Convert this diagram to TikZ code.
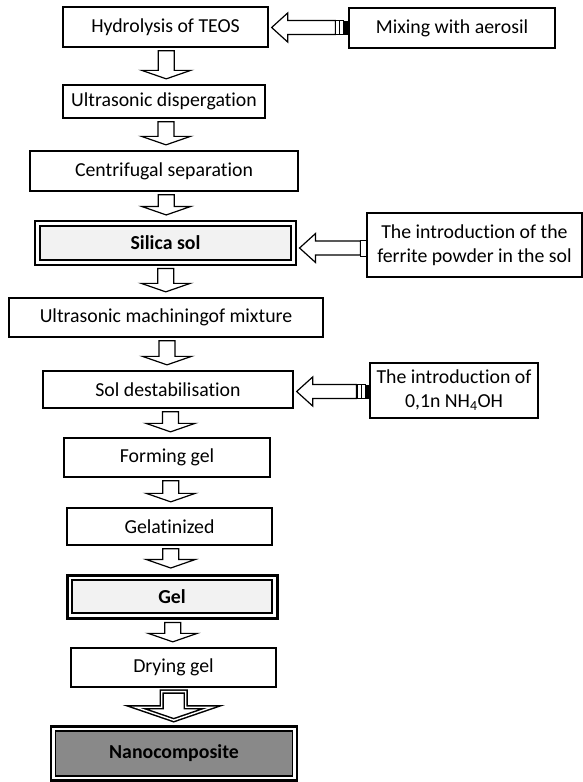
\documentclass[tikz,border=0pt]{standalone}
\usepackage{fontspec}
\setmainfont{Carlito}[Ligatures={NoCommon}]
\usetikzlibrary{calc}
\definecolor{lightfill}{RGB}{242,242,242}
\definecolor{darkfill}{RGB}{137,137,137}
\newcommand\bodyfs{\fontsize{19.8}{24}\selectfont}
\tikzset{
  box/.style={draw, line width=1.3pt, inner sep=0pt, align=center, font=\bodyfs},
  blk/.style={draw, line width=1.2pt, fill=white, line join=miter},
  silbox/.style={box, line width=1.1pt,
    path picture={\draw[line width=2.6pt, fill=lightfill]
      ([shift={(5pt,-5pt)}]path picture bounding box.north west) rectangle
      ([shift={(-5pt,5pt)}]path picture bounding box.south east);}},
  gelbox/.style={box, line width=3pt,
    path picture={\draw[line width=1.2pt, fill=lightfill]
      ([shift={(5pt,-5pt)}]path picture bounding box.north west) rectangle
      ([shift={(-5pt,5pt)}]path picture bounding box.south east);}},
  nanobox/.style={box, line width=2.6pt,
    path picture={\draw[line width=1.1pt, fill=darkfill]
      ([shift={(4.5pt,-4.5pt)}]path picture bounding box.north west) rectangle
      ([shift={(-4.5pt,4.5pt)}]path picture bounding box.south east);}},
}
\newcommand\dnarrow[3][0pt]{%
  \draw[blk] let \p1=(#2.south), \p2=(#3.north), \n1={(\x1+\x2)/2+#1} in
    (\n1-8pt,\y1-3pt) -- (\n1-8pt,\y2+14pt) -- (\n1-24.5pt,\y2+14pt) --
    (\n1,\y2+5.5pt) -- (\n1+24.5pt,\y2+14pt) -- (\n1+8pt,\y2+14pt) --
    (\n1+8pt,\y1-3pt) -- cycle;}
% horizontal arrow: #1 source, #2 target, #3 gap before source, #4 dy
\newcommand\lfarrow[4]{%
  \draw[blk] let \p1=(#1.west), \p2=(#2.east), \n1={(\y1+\y2)/2+#4} in
    (\x2+3pt,\n1) -- (\x2+19pt,\n1+14.5) -- (\x2+19pt,\n1+7) --
    (\x1-#3,\n1+7) -- (\x1-#3,\n1-7) -- (\x2+19pt,\n1-7) --
    (\x2+19pt,\n1-14.5) -- cycle;}
\begin{document}
\begin{tikzpicture}[x=1pt,y=1pt]
\useasboundingbox (0,0) rectangle (583,-782);
% main column
\node[box, minimum width=205pt, minimum height=40pt] (hyd) at (165.5,-27) {Hydrolysis of TEOS};
\node[box, minimum width=206pt, minimum height=40pt] (mix) at (452,-28) {Mixing with aerosil};
\node[box, minimum width=202pt, minimum height=33pt] (usd) at (164,-101.5) {Ultrasonic dispergation};
\node[box, minimum width=268pt, minimum height=40pt] (cen) at (164,-171) {Centrifugal separation};
\node[silbox, minimum width=261pt, minimum height=44pt] (sil) at (165.5,-243) {\textbf{Silica sol}};
\node[box, minimum width=215pt, minimum height=64pt] (fer) at (474.5,-245) {The introduction of the\\ferrite powder in the sol};
\node[box, minimum width=314pt, minimum height=39pt] (umm) at (166,-317.5) {Ultrasonic machiningof mixture};
\node[box, minimum width=250pt, minimum height=37pt] (sol) at (168,-389.5) {Sol destabilisation};
\node[box, minimum width=168pt, minimum height=55pt] (nh) at (454,-390.5) {The introduction of\\0,1n NH\textsubscript{4}OH};
\node[box, minimum width=206pt, minimum height=39pt] (frm) at (167,-457.5) {Forming gel};
\node[box, minimum width=205pt, minimum height=37pt] (gla) at (169.5,-526.5) {Gelatinized};
\node[gelbox, minimum width=210pt, minimum height=43pt] (gel) at (172,-596.5) {\textbf{Gel}};
\node[box, minimum width=205pt, minimum height=39pt] (dry) at (173.5,-667.5) {Drying gel};
\node[nanobox, minimum width=246pt, minimum height=54pt] (nano) at (174,-753.5) {\textbf{Nanocomposite}};
% vertical block arrows
\dnarrow[1.5pt]{hyd}{usd}
\dnarrow[2pt]{usd}{cen}
\dnarrow[1.5pt]{cen}{sil}
\dnarrow{sil}{umm}
\dnarrow{umm}{sol}
\dnarrow[3pt]{sol}{frm}
\dnarrow[2.5pt]{frm}{gla}
\dnarrow{gla}{gel}
\dnarrow{gel}{dry}
\draw[blk, line width=1.5pt, double=white, double distance=1.4pt]
  let \p1=(dry.south), \p2=(nano.north), \n1={(\x1+\x2)/2} in
  (\n1-12pt,\y1-4pt) -- (\n1-12pt,\y2+18pt) -- (\n1-38pt,\y2+18pt) --
  (\n1,\y2+5pt) -- (\n1+38pt,\y2+18pt) -- (\n1+12pt,\y2+18pt) --
  (\n1+12pt,\y1-4pt) -- cycle;
% side arrows
\lfarrow{mix}{hyd}{13pt}{0}
\draw[line width=1pt] let \p1=(mix.west), \p2=(hyd.east), \n1={(\y1+\y2)/2} in
  (\x1-13pt,\n1-7) rectangle (\x1-4.5pt,\n1+7)
  (\x1-9pt,\n1-7) -- (\x1-9pt,\n1+7);
\fill let \p1=(mix.west), \p2=(hyd.east), \n1={(\y1+\y2)/2} in
  (\x1-4.5pt,\n1-7) rectangle (\x1,\n1+7);
\lfarrow{fer}{sil}{6pt}{-4}
\draw[line width=1pt, fill=white] let \p1=(fer.west), \p2=(sil.east), \n1={(\y1+\y2)/2-4} in
  (\x1-6pt,\n1-8) rectangle (\x1,\n1+8);
\lfarrow{nh}{sol}{13pt}{-1.5}
\draw[line width=1pt] let \p1=(nh.west), \p2=(sol.east), \n1={(\y1+\y2)/2-1.5} in
  (\x1-12pt,\n1-7) rectangle (\x1-4pt,\n1+7)
  (\x1-8pt,\n1-7) -- (\x1-8pt,\n1+7);
\fill let \p1=(nh.west), \p2=(sol.east), \n1={(\y1+\y2)/2-1.5} in
  (\x1-4pt,\n1-7) rectangle (\x1,\n1+7);
\end{tikzpicture}
\end{document}
